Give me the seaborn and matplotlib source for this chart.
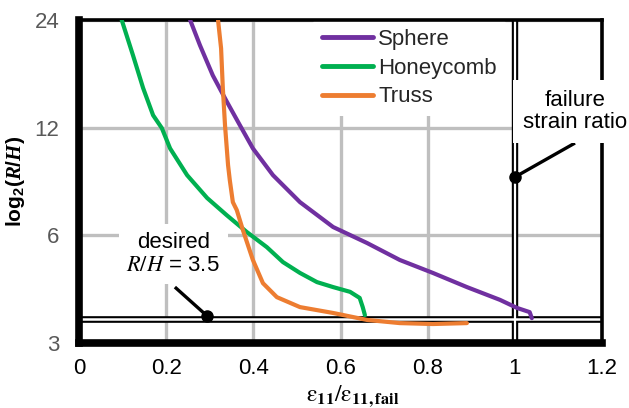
import numpy as np
import pandas as pd
import seaborn as sns
import matplotlib
matplotlib.use("Agg")
import matplotlib.pyplot as plt

# ---- data ----
sphere_x = [0.255, 0.2775, 0.307, 0.339, 0.369, 0.399, 0.445, 0.507, 0.583, 0.661,
            0.736, 0.812, 0.890, 0.966, 1.005, 1.034, 1.039]
sphere_y = [24.0, 20.4, 16.8, 14.2, 12.2, 10.5, 8.84, 7.43, 6.33, 5.71,
            5.12, 4.71, 4.30, 3.96, 3.76, 3.66, 3.52]

honey_x = [0.098, 0.124, 0.147, 0.170, 0.190, 0.209, 0.248, 0.294, 0.339, 0.385,
           0.431, 0.468, 0.507, 0.546, 0.583, 0.622, 0.644, 0.651, 0.656]
honey_y = [24.0, 19.1, 15.5, 13.0, 11.97, 10.5, 8.84, 7.63, 6.83, 6.13,
           5.56, 5.05, 4.71, 4.44, 4.30, 4.17, 4.01, 3.78, 3.59]

truss_x = [0.319, 0.326, 0.330, 0.335, 0.342, 0.346, 0.353, 0.362, 0.376, 0.399,
           0.422, 0.454, 0.507, 0.583, 0.661, 0.736, 0.812, 0.890]
truss_y = [24.0, 20.0, 15.5, 12.2, 9.43, 8.56, 7.43, 7.06, 6.21, 5.12,
           4.41, 4.03, 3.78, 3.64, 3.48, 3.41, 3.39, 3.41]

series_names = ["Sphere", "Honeycomb", "Truss"]
series_colors = ["#7030A0", "#00B050", "#ED7D31"]

x_ticks = [0, 0.2, 0.4, 0.6, 0.8, 1.0, 1.2]
x_tick_labels = ["0", "0.2", "0.4", "0.6", "0.8", "1", "1.2"]
y_ticks = [3, 6, 12, 24]
y_tick_labels = ["3", "6", "12", "24"]

desired_rh = 3.5
failure_ratio = 1.0

# ---- style ----
sns.set_theme(style="white")
plt.rcParams["font.family"] = ["Liberation Sans", "DejaVu Sans"]
plt.rcParams["mathtext.fontset"] = "custom"
plt.rcParams["mathtext.rm"] = "Liberation Sans:bold"
plt.rcParams["mathtext.bf"] = "Liberation Sans:bold"
plt.rcParams["mathtext.it"] = "Liberation Serif:italic:bold"

FS = 16

df = pd.concat([
    pd.DataFrame({"x": sphere_x, "y": sphere_y, "series": "Sphere"}),
    pd.DataFrame({"x": honey_x, "y": honey_y, "series": "Honeycomb"}),
    pd.DataFrame({"x": truss_x, "y": truss_y, "series": "Truss"}),
], ignore_index=True)

fig = plt.figure(figsize=(6.29, 4.08), dpi=100)
ax = fig.add_axes([79 / 629, 1 - 343 / 408, (602 - 79) / 629, (343 - 20) / 408])

# reference lines (double lines)
ax.axhline(desired_rh, color="black", lw=4.8, zorder=3, solid_capstyle="butt")
ax.axhline(desired_rh, color="white", lw=1.8, zorder=3.1, solid_capstyle="butt")
ax.axvline(failure_ratio, color="black", lw=4.6, zorder=3, solid_capstyle="butt")
ax.axvline(failure_ratio, color="white", lw=1.6, zorder=3.1, solid_capstyle="butt")

sns.lineplot(data=df, x="x", y="y", hue="series", hue_order=series_names,
             palette=series_colors, sort=False, estimator=None, lw=3.0,
             ax=ax, zorder=4)
for ln in ax.get_lines():
    ln.set_solid_joinstyle("round")
    ln.set_solid_capstyle("round")

ax.set_yscale("log", base=2)
ax.set_xlim(0, 1.2)
ax.set_ylim(3, 24)
ax.set_xticks(x_ticks)
ax.set_xticklabels(x_tick_labels)
ax.set_yticks(y_ticks)
ax.set_yticklabels(y_tick_labels)
ax.minorticks_off()
ax.tick_params(axis="x", length=0, pad=11, labelsize=FS, labelcolor="black")
ax.tick_params(axis="y", length=0, pad=14, labelsize=FS, labelcolor="#595959")

ax.grid(True, color="#BFBFBF", lw=2.4, zorder=1)
ax.set_axisbelow(True)

for side, w in [("left", 5.5), ("bottom", 5.5), ("top", 2.6), ("right", 2.6)]:
    ax.spines[side].set_visible(True)
    ax.spines[side].set_color("black")
    ax.spines[side].set_linewidth(w)
    ax.spines[side].set_zorder(3.5)

# labels
ax.set_xlabel(r"$\mathrm{ε}_{\mathbf{11}}/\mathrm{ε}_{\mathbf{11,fail}}$",
              fontsize=17, math_fontfamily="stix", color="black")
ax.xaxis.set_label_coords(0.524, -0.124)
ax.set_ylabel(r"log$_{2}$($\mathit{R/H}$)", fontsize=15, fontweight="bold",
              color="black")
ax.yaxis.set_label_coords(-0.10, 0.5)

# legend
handles, labels = ax.get_legend_handles_labels()
for h in handles:
    h.set_linewidth(3.5)
leg = ax.legend(handles, labels, loc="upper left", bbox_to_anchor=(0.447, 1.0),
                borderaxespad=0, frameon=True, fontsize=FS, handlelength=2.3,
                handletextpad=0.25, labelspacing=0.35, borderpad=0.4)
leg.get_frame().set_facecolor("white")
leg.get_frame().set_edgecolor("none")
leg.get_frame().set_alpha(1.0)
leg.set_zorder(2.8)

# annotation: failure strain ratio
fail_dot = (1.0, 8.73)
fail_lead = (1.138, 10.87)
fail_text = (1.138, 13.3)
ax.plot([fail_dot[0], fail_lead[0]], [fail_dot[1], fail_lead[1]], color="black",
        lw=2.4, zorder=5, clip_on=False, solid_capstyle="butt")
ax.plot([fail_dot[0]], [fail_dot[1]], "o", color="black", ms=8, zorder=6, clip_on=False)
ax.text(fail_text[0], fail_text[1], "failure\nstrain ratio", ha="center", va="center",
        fontsize=FS, color="black", linespacing=1.05, zorder=5, clip_on=False,
        bbox=dict(boxstyle="square,pad=0.45", facecolor="white", edgecolor="none"))

# annotation: desired R/H
des_dot = (0.294, 3.57)
des_lead = (0.22, 4.30)
des_text = (0.216, 5.32)
ax.plot([des_dot[0], des_lead[0]], [des_dot[1], des_lead[1]], color="black",
        lw=2.4, zorder=5, solid_capstyle="butt")
ax.plot([des_dot[0]], [des_dot[1]], "o", color="black", ms=8, zorder=6)
ax.text(des_text[0], des_text[1], "desired\n$\\mathit{R/H}$ = 3.5", ha="center",
        va="center", fontsize=FS, color="black", linespacing=1.15, zorder=5,
        math_fontfamily="stix",
        bbox=dict(boxstyle="square,pad=0.35", facecolor="white", edgecolor="none"))

fig.savefig("out.png", dpi=100)
